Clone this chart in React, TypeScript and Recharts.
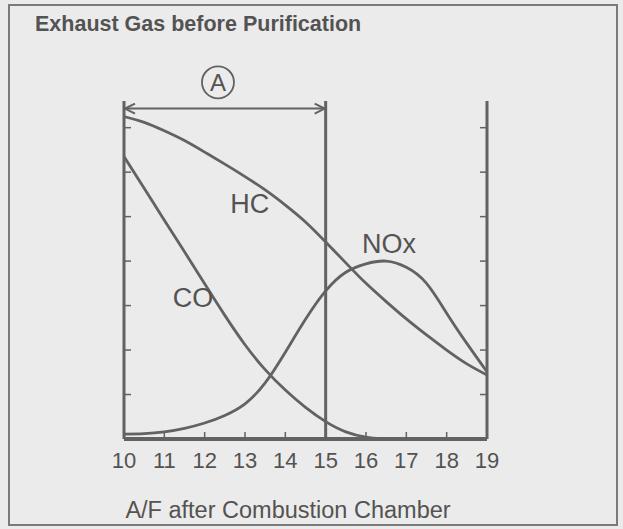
import { LineChart, Line, XAxis, YAxis, ReferenceLine, ReferenceDot } from "recharts";

// air/fuel ratio positions
const hcX = [10, 10.5, 11, 11.5, 12, 12.5, 13, 13.5, 14, 14.5, 15, 15.5, 16, 16.5, 17, 17.5, 18, 18.5, 19];
const hcY = [72.5, 71.2, 69.3, 67.1, 64.5, 61.8, 59.0, 56.0, 52.6, 48.8, 44.3, 39.6, 35.0, 30.9, 27.0, 23.4, 20.0, 16.9, 14.4];

const coX = [10, 10.5, 11, 11.5, 12, 12.5, 13, 13.5, 14, 14.5, 15, 15.5, 16, 16.4];
const coY = [63.5, 56.4, 49.2, 42.1, 34.9, 27.8, 21.2, 15.6, 11.0, 7.1, 3.9, 1.6, 0.4, 0];

const noxX = [10, 10.5, 11, 11.5, 12, 12.5, 13, 13.5, 14, 14.5, 15, 15.5, 16, 16.5, 17, 17.5, 18, 18.5, 19];
const noxY = [1.1, 1.2, 1.6, 2.4, 3.6, 5.3, 7.9, 12.6, 19.5, 26.9, 33.3, 37.5, 39.4, 40.0, 38.6, 35.0, 28.3, 21.5, 15.1];

const xTicks = [10, 11, 12, 13, 14, 15, 16, 17, 18, 19];
const yTicks = [10, 20, 30, 40, 50, 60, 70];

const hcData = hcX.map((x, i) => ({ x, v: hcY[i] }));
const coData = coX.map((x, i) => ({ x, v: coY[i] }));
const noxData = noxX.map((x, i) => ({ x, v: noxY[i] }));

const INK = "#626262";
const TEXT = "#535353";

const ArrowShape = (p: any) => {
  const { x1, y1, x2, y2 } = p;
  return (
    <g stroke={INK} strokeWidth={2} fill="none">
      <line x1={x1} y1={y1} x2={x2} y2={y2} />
      <polyline points={`${x1 + 11},${y1 - 5} ${x1 + 1},${y1} ${x1 + 11},${y1 + 5}`} />
      <polyline points={`${x2 - 11},${y2 - 5} ${x2 - 1},${y2} ${x2 - 11},${y2 + 5}`} />
    </g>
  );
};

// no labels on the value axes, only the inward tick marks
const NoLabel = () => <g />;

export default function App() {
  return (
    <div
      style={{
        position: "fixed",
        left: 0,
        top: 0,
        width: 623,
        height: 529,
        background: "#ebebeb",
        fontFamily: "'Liberation Sans', Arial, sans-serif",
        overflow: "hidden",
      }}
    >
      <div
        style={{
          position: "absolute",
          left: 8,
          top: 4,
          width: 606,
          height: 518,
          border: "2px solid #7a7a7a",
        }}
      />
      <div
        style={{
          position: "absolute",
          left: 35,
          top: 14,
          fontSize: 21.5,
          lineHeight: "21px",
          fontWeight: "bold",
          color: TEXT,
          whiteSpace: "nowrap",
        }}
      >
        Exhaust Gas before Purification
      </div>
      <div
        style={{
          position: "absolute",
          left: 88,
          top: 499,
          width: 400,
          textAlign: "center",
          fontSize: 23.5,
          lineHeight: "23px",
          color: TEXT,
          whiteSpace: "nowrap",
        }}
      >
        A/F after Combustion Chamber
      </div>
      <div style={{ position: "absolute", left: 0, top: 0 }}>
        <LineChart width={623} height={529} margin={{ top: 101, right: 76, bottom: 60, left: 64 }}>
          <XAxis
            dataKey="x"
            type="number"
            domain={[10, 19]}
            ticks={xTicks}
            allowDataOverflow
            axisLine={{ stroke: INK, strokeWidth: 4 }}
            tickLine={{ stroke: INK, strokeWidth: 1.5 }}
            tickSize={-7}
            tickMargin={20}
            tick={{ fill: TEXT, fontSize: 22 }}
          />
          <YAxis
            yAxisId="l"
            orientation="left"
            width={60}
            type="number"
            domain={[0, 76]}
            ticks={yTicks}
            allowDataOverflow
            axisLine={{ stroke: INK, strokeWidth: 3 }}
            tickLine={{ stroke: INK, strokeWidth: 1.5 }}
            tickSize={-7}
            tick={NoLabel}
          />
          <YAxis
            yAxisId="r"
            orientation="right"
            width={60}
            type="number"
            domain={[0, 76]}
            ticks={yTicks}
            allowDataOverflow
            axisLine={{ stroke: INK, strokeWidth: 3 }}
            tickLine={{ stroke: INK, strokeWidth: 1.5 }}
            tickSize={-7}
            tick={NoLabel}
          />
          <ReferenceLine yAxisId="l" x={15} stroke={INK} strokeWidth={3} />
          <ReferenceLine
            yAxisId="l"
            segment={[
              { x: 10, y: 74.3 },
              { x: 15, y: 74.3 },
            ]}
            shape={ArrowShape}
          />
          <ReferenceDot
            yAxisId="l"
            x={12.33}
            y={80.2}
            r={16}
            fill="none"
            stroke={INK}
            strokeWidth={1.8}
            ifOverflow="visible"
            label={{ value: "A", position: "center", fontSize: 24, fill: TEXT }}
          />
          <Line data={hcData} yAxisId="l" dataKey="v" type="natural" stroke={INK} strokeWidth={2.8} dot={false} isAnimationActive={false} />
          <Line data={coData} yAxisId="l" dataKey="v" type="natural" stroke={INK} strokeWidth={2.8} dot={false} isAnimationActive={false} />
          <Line data={noxData} yAxisId="l" dataKey="v" type="natural" stroke={INK} strokeWidth={2.8} dot={false} isAnimationActive={false} />
          <ReferenceDot yAxisId="l" x={13.12} y={52.9} r={1} fill="none" stroke="none" label={{ value: "HC", position: "center", fontSize: 27, fill: TEXT }} />
          <ReferenceDot yAxisId="l" x={11.71} y={31.8} r={1} fill="none" stroke="none" label={{ value: "CO", position: "center", fontSize: 27, fill: TEXT }} />
          <ReferenceDot yAxisId="l" x={16.57} y={43.9} r={1} fill="none" stroke="none" label={{ value: "NOx", position: "center", fontSize: 27, fill: TEXT }} />
        </LineChart>
      </div>
    </div>
  );
}
